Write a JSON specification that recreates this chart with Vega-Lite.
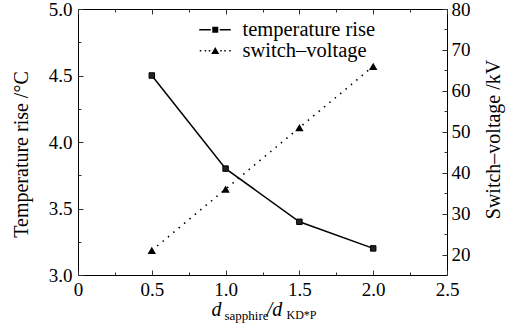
{
  "$schema": "https://vega.github.io/schema/vega-lite/v6.json",
  "width": 369,
  "height": 266,
  "autosize": "none",
  "padding": {"left": 78, "top": 9, "right": 72, "bottom": 53},
  "background": "white",
  "config": {
    "font": "Liberation Serif",
    "view": {"stroke": "black", "strokeWidth": 1},
    "axis": {
      "zindex": 1,
      "domain": false,
      "grid": false,
      "ticks": true,
      "tickColor": "#333333",
      "tickWidth": 1,
      "tickOpacity": 1,
      "labelColor": "black",
      "labelFontSize": 19,
      "labelFont": "Liberation Serif",
      "titleFont": "Liberation Serif",
      "titleColor": "black",
      "titleFontWeight": "normal",
      "labelOverlap": false,
      "labelFlush": false,
      "labelBound": false
    },
    "legend": {"labelFont": "Liberation Serif"}
  },
  "data": {
    "values": [
      {"d": 0.5, "series": "temperature rise", "value": 4.5},
      {"d": 1.0, "series": "temperature rise", "value": 3.8},
      {"d": 1.5, "series": "temperature rise", "value": 3.4},
      {"d": 2.0, "series": "temperature rise", "value": 3.2},
      {"d": 0.5, "series": "switch–voltage", "value": 21},
      {"d": 1.0, "series": "switch–voltage", "value": 36},
      {"d": 1.5, "series": "switch–voltage", "value": 51},
      {"d": 2.0, "series": "switch–voltage", "value": 66}
    ]
  },
  "layer": [
    {
      "transform": [{"filter": "datum.series == 'temperature rise'"}],
      "encoding": {
        "x": {
          "field": "d",
          "type": "quantitative",
          "scale": {"domain": [0, 2.5], "nice": false, "zero": false},
          "axis": {
            "orient": "bottom",
            "values": [0, 0.5, 1, 1.5, 2, 2.5],
            "labelExpr": "datum.value == 0 ? '0' : format(datum.value, '.1f')",
            "offset": -5,
            "tickSize": 5,
            "labelPadding": 5,
            "title": "d",
            "titleFontStyle": "italic",
            "titleFontSize": 20,
            "titleX": 138,
            "titleY": 45,
            "titleAlign": "center",
            "titleBaseline": "alphabetic"
          }
        },
        "y": {
          "field": "value",
          "type": "quantitative",
          "scale": {"domain": [3, 5], "nice": false, "zero": false},
          "axis": {
            "orient": "left",
            "values": [3, 3.5, 4, 4.5, 5],
            "labelExpr": "format(datum.value, '.1f')",
            "offset": -5,
            "tickSize": 5,
            "labelPadding": 6,
            "title": "Temperature rise /°C",
            "titleFontSize": 20,
            "titleAngle": -90,
            "titleX": -62,
            "titleY": 145,
            "titleAlign": "center",
            "titleBaseline": "middle"
          }
        }
      },
      "layer": [
        {"mark": {"type": "line", "color": "black", "strokeWidth": 1.5}},
        {"mark": {"type": "point", "shape": "square", "filled": true, "fill": "#222222", "stroke": "black", "strokeWidth": 1, "size": 30, "opacity": 1}},
        {
          "mark": {"type": "point", "opacity": 0, "filled": true, "color": "black"},
          "encoding": {
            "shape": {
              "field": "series",
              "type": "nominal",
              "scale": {
                "domain": ["temperature rise", "switch–voltage"],
                "range": [
                  "M-3.2,-0.14H-0.9V0.14H-3.2ZM0.9,-0.14H3.1V0.14H0.9ZM-0.6,-0.6H0.6V0.6H-0.6Z",
                  "M-3.1,-0.15H-2.8V0.15H-3.1ZM-2.1,-0.15H-1.8V0.15H-2.1ZM-1.3,-0.15H-1.0V0.15H-1.3ZM1.0,-0.15H1.3V0.15H1.0ZM1.8,-0.15H2.1V0.15H1.8ZM2.8,-0.15H3.1V0.15H2.8ZM-0.8,0.65L0,-0.75L0.8,0.65Z"
                ]
              },
              "legend": {
                "orient": "none",
                "legendX": 127,
                "legendY": 10.5,
                "title": null,
                "padding": 0,
                "labelFontSize": 20.5,
                "labelColor": "black",
                "symbolSize": 100,
                "labelOffset": 17,
                "rowPadding": -1.5,
                "symbolOpacity": 1,
                "symbolFillColor": "black",
                "encode": {
                  "symbols": {
                    "update": {
                      "fill": {"value": "black"},
                      "fillOpacity": {"value": 1},
                      "opacity": {"value": 1}
                    }
                  }
                }
              }
            }
          }
        }
      ]
    },
    {
      "transform": [{"filter": "datum.series != 'temperature rise'"}],
      "encoding": {
        "x": {
          "field": "d",
          "type": "quantitative",
          "scale": {"domain": [0, 2.5], "nice": false, "zero": false},
          "axis": {
            "orient": "top",
            "values": [0, 0.5, 1, 1.5, 2, 2.5],
            "labels": false,
            "offset": -5,
            "tickSize": 5,
            "title": "/d",
            "titleFontStyle": "italic",
            "titleFontSize": 20,
            "titleX": 196,
            "titleY": 301,
            "titleAlign": "center",
            "titleBaseline": "alphabetic"
          }
        },
        "y": {
          "field": "value",
          "type": "quantitative",
          "scale": {"domain": [15, 80], "nice": false, "zero": false},
          "axis": {
            "orient": "right",
            "values": [20, 30, 40, 50, 60, 70, 80],
            "labelExpr": "format(datum.value, 'd')",
            "offset": -5,
            "tickSize": 5,
            "labelPadding": 4,
            "title": "Switch–voltage /kV",
            "titleFontSize": 20,
            "titleAngle": -90,
            "titleX": 51,
            "titleY": 130,
            "titleAlign": "center",
            "titleBaseline": "middle"
          }
        }
      },
      "layer": [
        {"mark": {"type": "line", "color": "black", "strokeWidth": 1.6, "strokeDash": [1.5, 5.5]}},
        {"mark": {"type": "point", "shape": "triangle-up", "filled": true, "fill": "black", "size": 70, "opacity": 1}}
      ]
    },
    {
      "transform": [{"filter": "datum.series == 'temperature rise'"}],
      "mark": {"type": "point", "opacity": 0},
      "encoding": {
        "x": {
          "field": "d",
          "type": "quantitative",
          "scale": {"domain": [0, 2.5], "nice": false, "zero": false},
          "axis": {
            "orient": "bottom",
            "values": [0.25, 0.75, 1.25, 1.75, 2.25],
            "labels": false,
            "offset": -3,
            "tickSize": 3,
            "title": "sapphire",
            "titleFontSize": 13,
            "titleX": 168,
            "titleY": 47,
            "titleAlign": "center",
            "titleBaseline": "alphabetic"
          }
        },
        "y": {
          "field": "value",
          "type": "quantitative",
          "scale": {"domain": [3, 5], "nice": false, "zero": false},
          "axis": {
            "orient": "left",
            "values": [3.25, 3.75, 4.25, 4.75],
            "labels": false,
            "offset": -3,
            "tickSize": 3,
            "title": null
          }
        }
      }
    },
    {
      "transform": [{"filter": "datum.series != 'temperature rise'"}],
      "mark": {"type": "point", "opacity": 0},
      "encoding": {
        "x": {
          "field": "d",
          "type": "quantitative",
          "scale": {"domain": [0, 2.5], "nice": false, "zero": false},
          "axis": {
            "orient": "top",
            "values": [0.25, 0.75, 1.25, 1.75, 2.25],
            "labels": false,
            "offset": -3,
            "tickSize": 3,
            "title": "KD*P",
            "titleFontSize": 12,
            "titleX": 223,
            "titleY": 306,
            "titleAlign": "center",
            "titleBaseline": "alphabetic"
          }
        },
        "y": {
          "field": "value",
          "type": "quantitative",
          "scale": {"domain": [15, 80], "nice": false, "zero": false},
          "axis": {
            "orient": "right",
            "values": [25, 35, 45, 55, 65, 75],
            "labels": false,
            "offset": -3,
            "tickSize": 3,
            "title": null
          }
        }
      }
    }
  ],
  "resolve": {
    "scale": {"y": "independent"},
    "axis": {"x": "independent", "y": "independent"}
  }
}
